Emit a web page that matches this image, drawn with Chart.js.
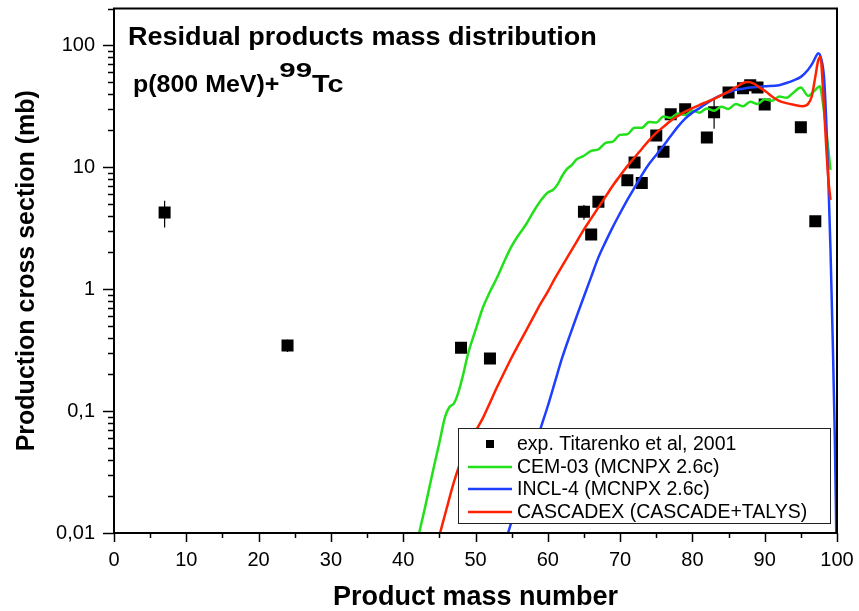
<!DOCTYPE html>
<html>
<head>
<meta charset="utf-8">
<script src="https://cdn.jsdelivr.net/npm/chart.js@4.4.0/dist/chart.umd.min.js"></script>
<style>
    html, body { margin: 0; padding: 0; background: #fff; }
    #wrap { width: 859px; height: 611px; }
</style>
</head>
<body>
<div id="wrap"><canvas id="myChart"></canvas></div>
<script>
// experimental points (Titarenko et al, 2001)
const expMass  = [7, 24, 48, 52, 65, 66, 67, 71, 72, 73, 75, 76, 77, 79, 82, 83, 85, 87, 88, 89, 90, 95, 97];
const expSigma = [4.25, 0.345, 0.33, 0.27, 4.3, 2.8, 5.2, 7.8, 10.9, 7.4, 18.2, 13.4, 27.1, 29.8, 17.5, 28.2, 41, 44.4, 47, 45, 32.7, 21.2, 3.6];
const expError = [1.05, 0.04, 0.02, 0.02, 0.6, 0.2, 0.3, 0.4, 0.6, 0.4, 0.9, 0.7, 1.5, 1.5, 0.9, 7.5, 2, 2, 2.5, 2, 1.6, 1, 0.2];

// CEM-03 (MCNPX 2.6c)
const cemMass  = [42.2, 43, 44, 45, 45.8, 46.4, 47, 47.6, 48.3, 49, 50, 51, 52, 53, 54, 55, 56, 57, 58, 59, 60, 60.7, 61.4, 62, 62.6, 63.3,
                  64, 65, 66, 67, 68, 69, 70, 71, 72, 73, 74, 75, 76, 77, 78, 79, 80, 81, 82, 83, 84, 85, 86, 87, 88, 89, 90, 91, 92, 93, 94, 95, 96, 97, 97.6, 98.1, 98.6, 99.1];
const cemSigma = [0.01, 0.016, 0.03, 0.055, 0.09, 0.108, 0.115, 0.14, 0.2, 0.3, 0.46, 0.7, 0.95, 1.25, 1.7, 2.25, 2.8, 3.4, 4.3, 5.3, 6.2, 6.5, 7.3, 8.5, 9.6, 10.4,
                  11.6, 12.4, 13.6, 14.0, 15.8, 16.2, 18.4, 18.6, 21.0, 21.0, 23.5, 23.2, 26.0, 25.4, 27.6, 26.8, 29.0, 28.0, 30.3, 29.0, 31.3, 30.0, 33.0, 31.6, 34.4, 33.0, 36.0, 35.0, 38.0, 37.0, 41.0, 45.0, 38.5, 43.0, 46.0, 32, 18, 9.5];

// INCL-4 (MCNPX 2.6c)
const inclMass  = [54.5, 55, 56, 57, 58, 59, 60, 61, 62, 63, 64, 65, 66, 67, 68, 69, 70, 71, 72, 73, 74, 75, 76, 77, 78, 79, 80, 81, 82, 83, 84, 85, 86, 87, 88, 90, 92, 93, 94, 95, 96, 96.6, 97, 97.4, 97.8, 98.2, 98.5, 98.8, 99.1, 99.4, 99.7, 99.9];
const inclSigma = [0.01, 0.0125, 0.0193, 0.030, 0.046, 0.072, 0.11, 0.174, 0.275, 0.41, 0.60, 0.87, 1.26, 1.82, 2.45, 3.24, 4.2, 5.4, 6.8, 8.6, 10.6, 12.6, 15, 18, 21.5, 25, 28, 30.5, 33.5, 36.5, 39, 41, 43, 44, 45, 46, 47, 49, 51.5, 55, 63, 71, 79, 86, 78, 55, 25, 8, 2.1, 0.4, 0.06, 0.01];

// CASCADEX (CASCADE+TALYS)
const cascMass  = [45.1, 46, 47, 48, 49, 50, 51, 52, 53, 54, 55, 56, 57, 58, 59, 60, 61, 62, 63, 64, 65, 66, 67, 68, 69, 70, 71, 72, 73, 74, 75, 76, 77, 78, 79, 80, 81, 82, 83, 84, 85, 86, 87, 87.7, 88.5, 89.3, 90.2, 91, 92, 93, 94, 95.2, 96, 96.5, 97, 97.4, 97.7, 98.1, 98.5, 98.8, 99.1];
const cascSigma = [0.01, 0.0158, 0.026, 0.039, 0.051, 0.068, 0.087, 0.117, 0.158, 0.209, 0.275, 0.355, 0.457, 0.589, 0.759, 0.955, 1.23, 1.55, 1.95, 2.45, 3.09, 3.8, 4.68, 5.75, 7.08, 8.5, 10.2, 12.0, 14.1, 16.6, 19.1, 21.4, 24, 26.3, 28.5, 30.5, 32.4, 34.3, 36.3, 38.9, 41.7, 45.2, 49, 50, 48.5, 45, 41.5, 38, 35, 33.5, 32.5, 31.6, 33, 38, 55, 75, 80, 40, 15, 8, 5.4];

const xTicks = [0, 10, 20, 30, 40, 50, 60, 70, 80, 90, 100];
const yTicks = [0.01, 0.1, 1, 10, 100];

const seriesLabels = ['exp. Titarenko et al, 2001', 'CEM-03 (MCNPX 2.6c)', 'INCL-4 (MCNPX 2.6c)', 'CASCADEX (CASCADE+TALYS)'];
const seriesColors = ['#000000', '#22e01a', '#1f3fff', '#ff2200'];

const FONT = '"Liberation Sans", Arial, sans-serif';

function toPoints(xs, ys) {
    return xs.map((x, i) => ({ x: x, y: ys[i] }));
}

// draws text with a small horizontal stretch, returns the advance
function stretchText(ctx, text, x, y, font, sx) {
    ctx.font = font;
    ctx.save();
    ctx.translate(x, y);
    ctx.scale(sx, 1);
    ctx.fillText(text, 0, 0);
    ctx.restore();
    return ctx.measureText(text).width * sx;
}

// ticks, frame, error bars, titles and legend
const decorPlugin = {
    id: 'decor',
    beforeDatasetsDraw(chart) {
        const ctx = chart.ctx;
        const xs = chart.scales.x, ys = chart.scales.y;
        ctx.save();
        ctx.strokeStyle = '#000';
        ctx.lineWidth = 1.2;
        expMass.forEach((m, i) => {
            const px = xs.getPixelForValue(m);
            ctx.beginPath();
            ctx.moveTo(px, ys.getPixelForValue(expSigma[i] + expError[i]));
            ctx.lineTo(px, ys.getPixelForValue(Math.max(expSigma[i] - expError[i], 0.011)));
            ctx.stroke();
        });
        ctx.restore();
    },
    afterDraw(chart) {
        const ctx = chart.ctx;
        const a = chart.chartArea;
        const xs = chart.scales.x, ys = chart.scales.y;
        ctx.save();
        ctx.strokeStyle = '#000';
        ctx.lineWidth = 2;
        ctx.strokeRect(a.left, a.top, a.right - a.left, a.bottom - a.top);

        // x ticks
        ctx.lineWidth = 1.5;
        for (let v = 0; v <= 100; v += 5) {
            const px = Math.round(xs.getPixelForValue(v)) + 0.5;
            const len = v % 10 === 0 ? 9 : 5;
            ctx.beginPath();
            ctx.moveTo(px, a.bottom);
            ctx.lineTo(px, a.bottom + len);
            ctx.stroke();
        }
        // y ticks
        for (let d = 0.01; d <= 100; d *= 10) {
            for (let k = 1; k <= 9; k++) {
                const v = d * k;
                if (v > ys.max) break;
                const py = Math.round(ys.getPixelForValue(v)) + 0.5;
                const len = k === 1 ? 11 : 6;
                ctx.beginPath();
                ctx.moveTo(a.left, py);
                ctx.lineTo(a.left - len, py);
                ctx.stroke();
            }
        }

        // titles inside the plot
        ctx.fillStyle = '#000';
        ctx.textBaseline = 'alphabetic';
        ctx.textAlign = 'left';
        stretchText(ctx, 'Residual products mass distribution', 128, 45, 'bold 26px ' + FONT, 1.04);
        let tx = 133;
        tx += stretchText(ctx, 'p(800 MeV)+', tx, 92, 'bold 24px ' + FONT, 1.04);
        tx += stretchText(ctx, '99', tx, 77, 'bold 21px ' + FONT, 1.4);
        stretchText(ctx, 'Tc', tx, 92, 'bold 24px ' + FONT, 1.2);

        // legend box
        const bx = 458, by = 428, bw = 372, bh = 95;
        ctx.fillStyle = '#fff';
        ctx.fillRect(bx, by, bw, bh);
        ctx.strokeStyle = '#222';
        ctx.lineWidth = 1;
        ctx.strokeRect(bx + 0.5, by + 0.5, bw, bh);
        ctx.font = '19.5px ' + FONT;
        ctx.textBaseline = 'middle';
        const rowY = [444, 467, 489, 512];
        seriesLabels.forEach((lab, i) => {
            const y = rowY[i];
            if (i === 0) {
                ctx.fillStyle = '#000';
                ctx.fillRect(486, y - 4, 8, 8);
            } else {
                ctx.strokeStyle = seriesColors[i];
                ctx.lineWidth = 2.5;
                ctx.beginPath();
                ctx.moveTo(468, y);
                ctx.lineTo(512, y);
                ctx.stroke();
            }
            ctx.fillStyle = '#000';
            ctx.fillText(lab, 517, y + 1);
        });
        ctx.restore();
    }
};

const lineStyle = (color) => ({
    showLine: true,
    borderColor: color,
    backgroundColor: color,
    borderWidth: 2.5,
    pointRadius: 0,
    pointHoverRadius: 0,
    cubicInterpolationMode: 'monotone',
    fill: false
});

const ctx = document.getElementById('myChart');
const myChart = new Chart(ctx, {
    type: 'scatter',
    data: {
        datasets: [
            {
                label: seriesLabels[0],
                data: toPoints(expMass, expSigma),
                pointStyle: 'rect',
                pointRadius: 8.5,
                borderWidth: 0,
                backgroundColor: '#000',
                borderColor: '#000',
                order: 3
            },
            Object.assign({ label: seriesLabels[1], data: toPoints(cemMass, cemSigma), order: 2 }, lineStyle(seriesColors[1])),
            Object.assign({ label: seriesLabels[2], data: toPoints(inclMass, inclSigma), order: 1 }, lineStyle(seriesColors[2])),
            Object.assign({ label: seriesLabels[3], data: toPoints(cascMass, cascSigma), order: 0 }, lineStyle(seriesColors[3]))
        ]
    },
    options: {
        responsive: true,
        maintainAspectRatio: false,
        animation: false,
        layout: { padding: { left: 0, right: 22, top: 8, bottom: 0 } },
        plugins: {
            legend: { display: false },
            tooltip: { enabled: false }
        },
        scales: {
            x: {
                type: 'linear',
                min: 0,
                max: 100,
                afterFit: (scale) => {
                    scale.height = 78;
                    scale.paddingLeft = 0;
                    scale.paddingRight = 0;
                },
                afterBuildTicks: (scale) => { scale.ticks = xTicks.map(v => ({ value: v })); },
                grid: { display: false, drawTicks: false },
                border: { display: false },
                ticks: {
                    color: '#000',
                    padding: 15,
                    maxRotation: 0,
                    font: { family: FONT, size: 20 }
                },
                title: {
                    display: true,
                    text: 'Product mass number',
                    color: '#000',
                    padding: { top: 0, bottom: 0 },
                    font: { family: FONT, size: 27, weight: 'bold', lineHeight: 1 }
                }
            },
            y: {
                type: 'logarithmic',
                min: 0.01,
                max: 200,
                afterFit: (scale) => {
                    scale.width = 114;
                    scale.paddingTop = 0;
                    scale.paddingBottom = 0;
                },
                afterBuildTicks: (scale) => { scale.ticks = yTicks.map(v => ({ value: v })); },
                grid: { display: false, drawTicks: false },
                border: { display: false },
                ticks: {
                    color: '#000',
                    padding: 19,
                    font: { family: FONT, size: 20 },
                    callback: (v) => String(v).replace('.', ',')
                },
                title: {
                    display: true,
                    text: 'Production cross section (mb)',
                    color: '#000',
                    padding: { top: 15, bottom: 0 },
                    font: { family: FONT, size: 25, weight: 'bold', lineHeight: 1 }
                }
            }
        }
    },
    plugins: [decorPlugin]
});
</script>
</body>
</html>
